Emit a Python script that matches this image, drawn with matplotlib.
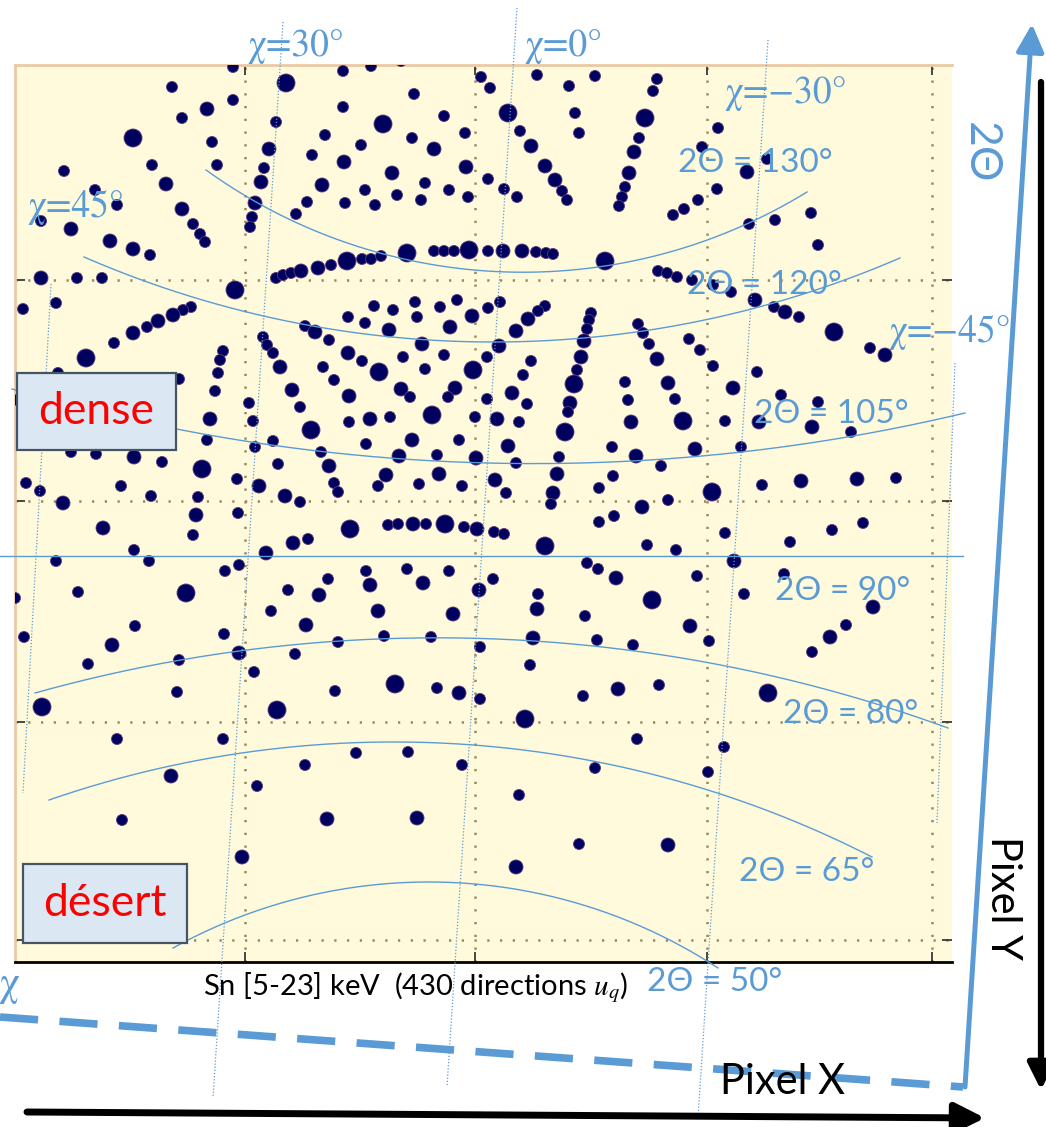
import numpy as np
import matplotlib
matplotlib.use("Agg")
import matplotlib.pyplot as plt
from matplotlib.patches import Rectangle

plt.rcParams['font.family'] = ['Lato', 'DejaVu Sans']
plt.rcParams['mathtext.fontset'] = 'stix'

# -- Laue spots on the detector: (pixel x, pixel y, intensity class 1..3)
spots_top = [
    (233, 67, 1), (172, 87, 1), (233, 100, 1), (207, 109, 2), (182, 118, 1), (286, 83, 3),
    (343, 71, 1), (371, 66, 1), (401, 61, 1), (481, 77, 1), (490, 88, 1), (414, 94, 1),
    (343, 107, 1), (537, 75, 1), (569, 86, 1), (595, 76, 1), (657, 79, 1), (653, 91, 1),
    (508, 113, 3), (575, 113, 1), (645, 118, 3), (444, 116, 1), (383, 124, 3), (276, 122, 1),
    (718, 128, 1),
]
spots_upper = [
    (133, 138, 3), (212, 142, 1), (217, 165, 1), (152, 165, 1), (64, 171, 1), (166, 184, 2),
    (95, 190, 1), (117, 205, 1), (182, 209, 2), (41, 221, 1), (71, 229, 2), (193, 224, 1),
    (200, 234, 1), (205, 242, 1), (110, 241, 2), (133, 249, 2), (150, 255, 1),
    (325, 135, 1), (269, 149, 2), (312, 155, 1), (344, 162, 2), (264, 168, 1), (261, 182, 2),
    (322, 185, 2), (307, 202, 1), (345, 203, 1), (255, 203, 2), (296, 214, 1), (252, 217, 1),
    (250, 227, 1),
    (465, 133, 1), (412, 138, 1), (520, 131, 1), (579, 133, 1), (639, 138, 1), (361, 145, 1),
    (434, 149, 2), (531, 146, 2), (634, 152, 2), (466, 167, 2), (545, 166, 2), (392, 173, 2),
    (629, 173, 2), (488, 179, 1), (425, 183, 1), (555, 180, 2), (365, 190, 1), (449, 190, 1),
    (504, 189, 1), (625, 187, 1), (562, 191, 1), (397, 195, 1), (468, 197, 1), (517, 197, 1),
    (622, 197, 1), (567, 200, 1), (619, 206, 1), (375, 205, 1), (421, 200, 1), (673, 215, 1),
    (702, 147, 1), (767, 159, 1), (747, 172, 2), (717, 189, 1), (698, 200, 1), (684, 209, 1),
    (749, 224, 1), (775, 220, 1), (811, 213, 1), (818, 245, 1),
]
spots_band120 = [
    (41, 278, 2), (77, 278, 1), (102, 278, 1), (235, 290, 3), (276, 278, 1), (283, 275, 1),
    (291, 273, 1), (301, 271, 2), (318, 268, 2), (331, 265, 1), (347, 261, 3), (362, 259, 1),
    (371, 259, 1), (381, 256, 1), (407, 253, 3), (434, 251, 1), (444, 251, 1), (454, 251, 1),
    (469, 250, 3), (488, 251, 1), (503, 251, 2), (522, 251, 2), (536, 252, 1), (546, 253, 1),
    (553, 254, 1), (605, 261, 3), (658, 271, 1), (667, 273, 1), (677, 277, 1), (692, 280, 1),
    (713, 285, 1), (731, 292, 1), (755, 300, 2), (774, 307, 1), (785, 312, 2), (799, 317, 1),
    (834, 332, 3), (689, 339, 1), (700, 350, 1), (713, 366, 1), (870, 348, 1), (885, 355, 2),
    (23, 309, 1), (56, 303, 1), (191, 307, 1), (183, 310, 1), (173, 315, 2), (158, 321, 2),
    (147, 327, 1), (133, 333, 2), (114, 343, 1), (86, 358, 3), (223, 351, 1), (220, 360, 1),
    (305, 326, 1), (315, 332, 2), (329, 340, 1), (348, 353, 2), (263, 337, 1), (267, 345, 1),
    (273, 353, 1), (280, 367, 2), (323, 367, 1),
    (415, 302, 1), (457, 300, 1), (500, 302, 1), (545, 306, 1), (538, 311, 1), (528, 319, 2),
    (516, 331, 2), (488, 308, 1), (472, 316, 2), (440, 307, 1), (393, 310, 1), (374, 306, 1),
    (348, 317, 1), (365, 323, 1), (417, 317, 1), (389, 330, 2), (450, 327, 2), (591, 313, 1),
    (589, 320, 1), (587, 329, 1), (584, 341, 2), (581, 357, 2), (638, 324, 1), (643, 333, 1),
    (649, 344, 1), (657, 359, 2), (422, 344, 2), (499, 346, 2), (362, 361, 1), (403, 357, 1),
    (444, 355, 1), (487, 357, 1), (531, 361, 1),
]
spots_middle = [
    (473, 370, 3), (379, 372, 3), (218, 373, 1), (215, 391, 1), (210, 419, 2), (207, 440, 1),
    (58, 373, 1), (179, 379, 1), (17, 400, 1), (71, 452, 1), (96, 454, 1), (134, 457, 2),
    (162, 462, 1), (202, 469, 3), (26, 483, 1), (40, 491, 1), (121, 486, 1), (151, 496, 1),
    (198, 497, 1), (237, 479, 1), (63, 503, 2),
    (334, 380, 1), (292, 390, 2), (300, 407, 1), (349, 396, 2), (249, 403, 1), (253, 421, 1),
    (311, 430, 3), (273, 441, 1), (255, 447, 1), (349, 422, 1), (321, 452, 1), (329, 466, 2),
    (278, 464, 1), (334, 483, 1), (338, 492, 1), (259, 486, 2), (285, 496, 2), (300, 502, 1),
    (425, 369, 1), (523, 375, 1), (577, 370, 1), (401, 389, 2), (410, 397, 1), (455, 388, 2),
    (448, 397, 1), (512, 393, 2), (487, 399, 1), (527, 404, 1), (574, 384, 3), (570, 403, 2),
    (568, 412, 1), (625, 382, 1), (628, 400, 1), (668, 383, 2), (675, 399, 1), (370, 419, 2),
    (390, 417, 1), (432, 415, 3), (475, 417, 1), (497, 419, 2), (519, 422, 1), (565, 432, 3),
    (631, 422, 2), (366, 444, 1), (412, 440, 2), (459, 440, 1), (508, 446, 2), (612, 447, 1),
    (399, 456, 2), (437, 455, 1), (476, 458, 2), (516, 463, 1), (559, 457, 1), (636, 456, 2),
    (661, 466, 1), (386, 475, 2), (378, 486, 1), (419, 484, 1), (439, 474, 2), (462, 486, 1),
    (495, 480, 2), (506, 493, 1), (557, 474, 2), (553, 493, 2), (551, 504, 1), (599, 488, 1),
    (613, 476, 1), (642, 507, 2), (668, 500, 1),
    (757, 372, 1), (733, 388, 2), (781, 395, 1), (818, 402, 1), (683, 421, 3), (725, 421, 1),
    (759, 422, 2), (812, 427, 2), (851, 432, 1), (695, 449, 2), (741, 447, 1), (762, 485, 1),
    (801, 481, 2), (857, 479, 2), (896, 478, 1), (712, 492, 3),
]
spots_lower = [
    (238, 513, 1), (196, 515, 2), (103, 528, 2), (193, 535, 1), (134, 550, 1), (149, 561, 1),
    (56, 561, 1), (239, 565, 1), (225, 571, 1), (78, 592, 1), (186, 593, 3), (15, 598, 1),
    (135, 626, 1), (24, 637, 1), (112, 645, 2), (224, 634, 1), (88, 664, 1), (179, 660, 1),
    (239, 653, 2),
    (350, 529, 3), (293, 543, 2), (308, 539, 1), (266, 553, 2), (328, 579, 1), (288, 590, 1),
    (319, 595, 2), (271, 611, 1), (306, 625, 2), (295, 654, 1), (338, 642, 1),
    (388, 525, 1), (398, 524, 1), (413, 524, 2), (426, 524, 1), (445, 524, 3), (464, 527, 1),
    (477, 529, 2), (494, 532, 1), (504, 534, 1), (545, 546, 3), (599, 522, 1), (614, 516, 1),
    (647, 545, 1), (676, 550, 1),
    (366, 571, 1), (407, 569, 1), (449, 571, 1), (370, 585, 2), (423, 583, 2), (493, 579, 1),
    (479, 590, 2), (587, 563, 1), (598, 569, 1), (616, 578, 2), (652, 600, 3), (538, 594, 1),
    (537, 609, 2), (585, 616, 1), (378, 611, 2), (453, 614, 2), (384, 636, 1), (431, 637, 1),
    (480, 647, 1), (533, 638, 2), (597, 640, 1), (633, 645, 1), (530, 665, 1),
    (725, 533, 1), (790, 542, 1), (832, 530, 1), (863, 523, 1), (734, 561, 2), (697, 576, 1),
    (744, 594, 1), (784, 574, 1), (873, 607, 2), (846, 625, 1), (830, 637, 2), (812, 652, 1),
    (690, 626, 2), (709, 641, 1),
]
spots_bottom = [
    (177, 692, 1), (42, 707, 3), (254, 672, 1), (335, 691, 1), (277, 710, 3), (117, 739, 1),
    (223, 739, 1), (305, 765, 1), (171, 776, 2), (257, 786, 1), (122, 820, 1), (327, 819, 2),
    (242, 857, 2),
    (395, 684, 3), (437, 688, 1), (459, 693, 2), (480, 699, 1), (525, 719, 3), (583, 696, 1),
    (618, 689, 2), (659, 685, 1), (356, 753, 1), (408, 752, 1), (462, 765, 1), (637, 739, 1),
    (595, 768, 1), (519, 795, 1), (417, 818, 2), (579, 844, 1), (668, 845, 2), (516, 867, 2),
    (768, 693, 3), (724, 747, 1), (708, 772, 1),
]

# -- iso-2theta curves: left end, apex, right end (detector pixels)
two_theta_labels = ['130', '120', '105', '80', '65', '50']
two_theta_curves = [
    [(206, 170), (507, 272), (807, 192)],
    [(84, 257), (497, 342), (900, 258)],
    [(12, 389), (487, 463), (965, 413)],
    [(35, 693), (460, 638), (948, 728)],
    [(49, 800), (440, 743), (872, 857)],
    [(173, 948), (430, 882), (718, 968)],
]
two_theta_90 = [(0, 556), (963, 556)]

# -- iso-chi lines (top, bottom)
chi_labels = ['30', '0', '\u221230', '45', '\u221245']
chi_lines = [
    [(283, 22), (213, 1098)],
    [(517, 8), (447, 1087)],
    [(768, 40), (698, 1118)],
    [(51, 284), (23, 793)],
    [(955, 363), (937, 823)],
]

BLUE = '#5B9BD5'
SERIF = 'STIXGeneral'
W, H = 1046, 1127


def circle_arc(p1, p2, p3, n=300):
    (x1, y1), (x2, y2), (x3, y3) = p1, p2, p3
    d = 2 * (x1 * (y2 - y3) + x2 * (y3 - y1) + x3 * (y1 - y2))
    ux = ((x1**2 + y1**2) * (y2 - y3) + (x2**2 + y2**2) * (y3 - y1) + (x3**2 + y3**2) * (y1 - y2)) / d
    uy = ((x1**2 + y1**2) * (x3 - x2) + (x2**2 + y2**2) * (x1 - x3) + (x3**2 + y3**2) * (x2 - x1)) / d
    r = np.hypot(x1 - ux, y1 - uy)
    a1 = np.arctan2(y1 - uy, x1 - ux)
    a2 = (np.arctan2(y2 - uy, x2 - ux) - a1) % (2 * np.pi)
    a3 = (np.arctan2(y3 - uy, x3 - ux) - a1) % (2 * np.pi)
    if a2 < a3:
        t = np.linspace(a1, a1 + a3, n)
    else:
        t = np.linspace(a1, a1 - (2 * np.pi - a3), n)
    return ux + r * np.cos(t), uy + r * np.sin(t)


def main():
    fig = plt.figure(figsize=(W / 100, H / 100), dpi=100)

    # -- detector image
    x0, x1, y0, y1 = 15, 952, 65, 962
    ax = fig.add_axes([x0 / W, (H - y1) / H, (x1 - x0) / W, (y1 - y0) / H])
    ax.set_xlim(x0, x1)
    ax.set_ylim(y1, y0)
    ax.set_facecolor('#FFFADC')
    ax.set_xticks([245, 475, 707, 932])
    ax.set_yticks([280, 501, 722, 940])
    ax.tick_params(direction='in', length=7, width=1.3, color='#3a3a3a',
                   top=True, right=True, labelbottom=False, labelleft=False)
    ax.grid(True, color='#9a8660', lw=1.8, ls=(0, (0.9, 4.2)))
    ax.spines['top'].set_color('#EBC9A4')
    ax.spines['top'].set_linewidth(2)
    ax.spines['left'].set_color('#EBC9A4')
    ax.spines['left'].set_linewidth(2)
    ax.spines['bottom'].set_color('black')
    ax.spines['bottom'].set_linewidth(2)
    ax.spines['right'].set_visible(False)

    spots = spots_top + spots_upper + spots_band120 + spots_middle + spots_lower + spots_bottom
    sx = np.array([s[0] for s in spots])
    sy = np.array([s[1] for s in spots])
    si = np.array([s[2] for s in spots])
    diam = np.choose(si - 1, [11, 14, 18])
    ax.scatter(sx, sy, s=(diam * 0.72) ** 2, c='#00005E', edgecolors='#5a3a78',
               linewidths=0.6, zorder=3)

    # -- overlay with annotations, same pixel frame
    ov = fig.add_axes([0, 0, 1, 1])
    ov.set_xlim(0, W)
    ov.set_ylim(H, 0)
    ov.axis('off')
    ov.patch.set_alpha(0)

    for pts in two_theta_curves:
        cx, cy = circle_arc(*pts)
        ov.plot(cx, cy, color=BLUE, lw=1.0)
    ov.plot(*zip(*two_theta_90), color=BLUE, lw=1.0)

    for pts in chi_lines:
        ov.plot(*zip(*pts), color=BLUE, lw=0.9, ls=(0, (1, 1.5)))

    chi_pos = [(296, 47), (564, 47), (786, 94), (76, 207), (950, 332)]
    for lab, (tx, ty) in zip(chi_labels, chi_pos):
        ov.text(tx, ty, '\u03c7=' + lab + '\u00b0', color=BLUE, fontsize=27,
                fontfamily=SERIF, ha='center', va='center')

    tt_pos = [(755, 163), (764, 285), (831, 414), (851, 714), (807, 872), (715, 982)]
    for lab, (tx, ty) in zip(two_theta_labels, tt_pos):
        ov.text(tx, ty, '2\u0398 = ' + lab + '\u00b0', color=BLUE, fontsize=24,
                ha='center', va='center')
    ov.text(843, 591, '2\u0398 = 90\u00b0', color=BLUE, fontsize=24,
            ha='center', va='center')

    # -- region boxes
    for (bx, by, bw, bh, word) in [(17, 373, 159, 77, 'dense'), (23, 864, 164, 79, 'd\u00e9sert')]:
        ov.add_patch(Rectangle((bx, by), bw, bh, facecolor='#DCE7F4',
                               edgecolor='#465566', lw=1.6, zorder=4))
        ov.text(bx + bw / 2, by + bh / 2, word, color='red', fontsize=32,
                ha='center', va='center', zorder=5)

    ov.text(416, 988, 'Sn [5-23] keV  (430 directions $u_q$)', fontsize=21,
            ha='center', va='center')
    ov.text(9, 985, '\u03c7', color=BLUE, fontsize=30, fontfamily=SERIF,
            ha='center', va='center')

    # -- axes arrows
    ov.plot([0, 963], [1017, 1087], color=BLUE, lw=5.5, ls=(0, (5, 2.8)),
            solid_capstyle='butt')
    ov.annotate('', xy=(1032, 24), xytext=(965, 1087),
                arrowprops=dict(arrowstyle='-|>', lw=3.6, color=BLUE, mutation_scale=42,
                                shrinkA=0, shrinkB=0))
    ov.text(980, 153, '2\u0398', color=BLUE, fontsize=32, rotation=-90,
            ha='center', va='center')

    ov.annotate('', xy=(985, 1118), xytext=(27, 1112),
                arrowprops=dict(arrowstyle='-|>', lw=5, color='black', mutation_scale=45,
                                shrinkA=0, shrinkB=0))
    ov.text(782, 1082, 'Pixel X', fontsize=30, ha='center', va='center')

    ov.annotate('', xy=(1041, 1090), xytext=(1041, 82),
                arrowprops=dict(arrowstyle='-|>', lw=4.5, color='black', mutation_scale=40,
                                shrinkA=0, shrinkB=0))
    ov.text(1003, 898, 'Pixel Y', fontsize=30, rotation=-90, ha='center', va='center')

    fig.savefig('out.png', dpi=100)


main()
